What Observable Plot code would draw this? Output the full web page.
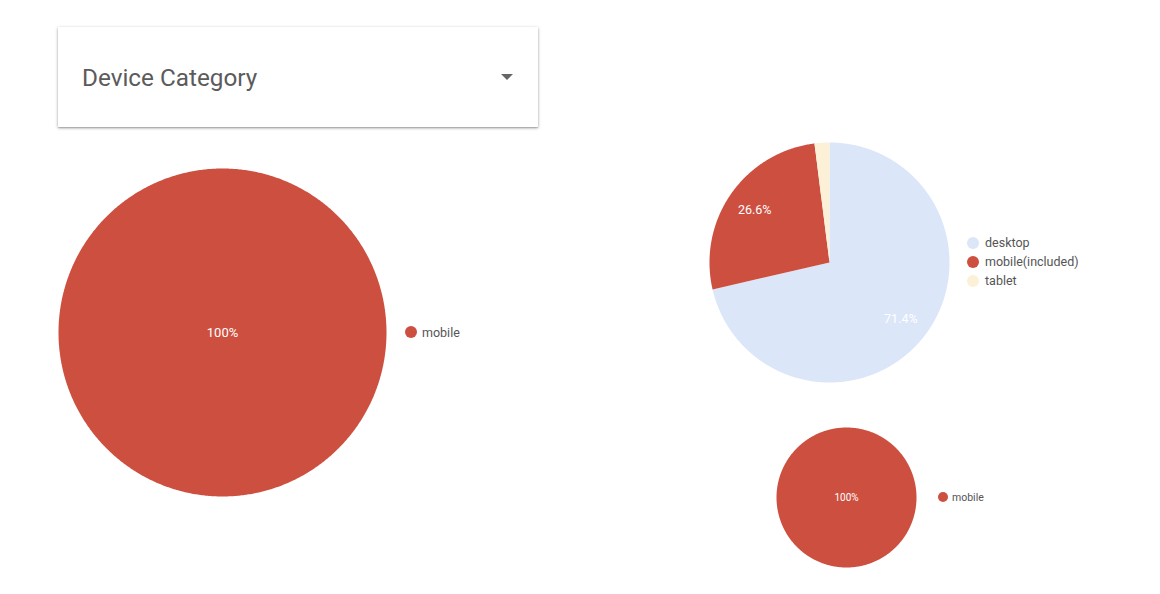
<!DOCTYPE html>
<html>
<head>
<meta charset="utf-8">
<script src="https://cdn.jsdelivr.net/npm/d3@7"></script>
<script src="https://cdn.jsdelivr.net/npm/@observablehq/plot@0.6"></script>
<style>
  html, body { margin: 0; padding: 0; background: #fff; }
  body { width: 1160px; height: 594px; position: relative; overflow: hidden; font-family: Roboto, "Noto Sans", sans-serif; }
  .card {
    position: absolute; left: 58px; top: 27px; width: 480px; height: 100px;
    background: #fff; box-shadow: 0 1px 3px rgba(0,0,0,0.35), 0 1px 1px rgba(0,0,0,0.12);
  }
  .card .title {
    position: absolute; left: 24px; top: 36px; font-size: 24.3px; color: #5b5b5b; line-height: 30px;
  }
  .card .arrow {
    position: absolute; left: 443px; top: 47px; width: 0; height: 0;
    border-left: 6px solid transparent; border-right: 6px solid transparent; border-top: 6px solid #666;
  }
  .pie { position: absolute; }
  .legend { position: absolute; color: #555; }
  .legend .row { display: flex; align-items: center; white-space: nowrap; }
  .legend .dot { border-radius: 50%; flex: none; }
</style>
</head>
<body>
<div class="card"><div class="title">Device Category</div><div class="arrow"></div></div>
<div id="pieMain" class="pie" style="left:58px; top:168px;"></div>
<div id="legMain" class="legend" style="left:405px; top:322px;"></div>
<div id="pieSplit" class="pie" style="left:709px; top:142px;"></div>
<div id="legSplit" class="legend" style="left:967px; top:233px;"></div>
<div id="pieSmall" class="pie" style="left:776px; top:427px;"></div>
<div id="legSmall" class="legend" style="left:938px; top:489px;"></div>
<script>
// Sessions by device category, in percent
const mainCategories = ["mobile"];
const mainShares = [100];

const splitCategories = ["desktop", "mobile(included)", "tablet"];
const splitShares = [71.4, 26.6, 2.0];

const smallCategories = ["mobile"];
const smallShares = [100];

const colorOf = {
  "desktop": "#dce6f9",
  "mobile": "#cd4f3f",
  "mobile(included)": "#cd4f3f",
  "tablet": "#fcf0d7"
};

// Build wedge outlines (unit circle, clockwise from 12 o'clock) from the shares
function wedges(categories, shares) {
  const rows = categories.map((c, i) => ({category: c, value: shares[i]}));
  const arcs = d3.pie().sort(null).value(d => d.value)(rows);
  const pts = [];
  const labels = [];
  for (const a of arcs) {
    const c = a.data.category;
    const span = a.endAngle - a.startAngle;
    const full = span >= 2 * Math.PI - 1e-9;
    if (!full) pts.push({category: c, x: 0, y: 0});
    const n = Math.max(2, Math.ceil(span / (Math.PI / 360)));
    for (let k = 0; k <= n; k++) {
      const t = a.startAngle + span * k / n;
      pts.push({category: c, x: Math.sin(t), y: Math.cos(t)});
    }
    if (!full) pts.push({category: c, x: 0, y: 0});
    const mid = (a.startAngle + a.endAngle) / 2;
    const rr = full ? 0 : 0.76;
    if (a.data.value >= 5) {
      labels.push({category: c, x: rr * Math.sin(mid), y: rr * Math.cos(mid), text: `${a.data.value}%`});
    }
  }
  return {pts, labels};
}

function pie(el, categories, shares, size, fontSize) {
  const {pts, labels} = wedges(categories, shares);
  const chart = Plot.plot({
    width: size, height: size,
    margin: 0,
    x: {domain: [-1, 1], axis: null},
    y: {domain: [-1, 1], axis: null},
    color: {domain: Object.keys(colorOf), range: Object.values(colorOf)},
    style: {fontFamily: "Roboto, 'Noto Sans', sans-serif", background: "transparent", overflow: "visible"},
    marks: [
      Plot.line(pts, {x: "x", y: "y", z: "category", fill: "category", stroke: null, curve: "linear"}),
      Plot.text(labels, {x: "x", y: "y", text: "text", fill: "#ffffff", fontSize, textAnchor: "middle"})
    ]
  });
  document.getElementById(el).appendChild(chart);
}

function legend(el, categories, dot, fontSize, rowHeight, gap) {
  const box = document.getElementById(el);
  for (const c of categories) {
    const row = document.createElement("div");
    row.className = "row";
    row.style.height = rowHeight + "px";
    row.style.fontSize = fontSize + "px";
    const d = document.createElement("span");
    d.className = "dot";
    d.style.width = dot + "px";
    d.style.height = dot + "px";
    d.style.background = colorOf[c];
    d.style.marginRight = gap + "px";
    const t = document.createElement("span");
    t.textContent = c;
    row.appendChild(d);
    row.appendChild(t);
    box.appendChild(row);
  }
}

pie("pieMain", mainCategories, mainShares, 328, 13);
pie("pieSplit", splitCategories, splitShares, 240, 12.5);
pie("pieSmall", smallCategories, smallShares, 140, 10);

legend("legMain", mainCategories, 12, 12.5, 20, 5);
legend("legSplit", splitCategories, 12, 12.5, 19, 6);
legend("legSmall", smallCategories, 10, 10.5, 16, 4);
</script>
</body>
</html>
